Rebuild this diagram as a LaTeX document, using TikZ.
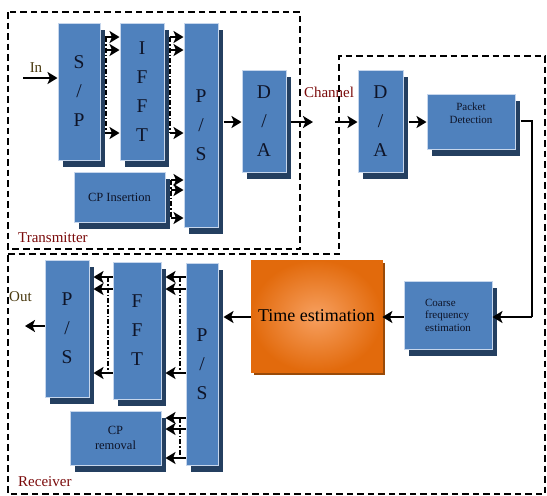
\documentclass[tikz,border=0pt]{standalone}
\usepackage{fontspec}
\setmainfont{Liberation Serif}
\usetikzlibrary{arrows.meta,shadows,calc}
\definecolor{blockblue}{HTML}{4F81BD}
\definecolor{blockedge}{HTML}{C6D6EC}
\definecolor{shadowblue}{HTML}{243F60}
\definecolor{orangeout}{HTML}{E26A0C}
\definecolor{orangein}{HTML}{F7A060}
\definecolor{orangeshadow}{HTML}{9A4A08}
\definecolor{labelred}{HTML}{7A0A0A}
\definecolor{labelbrown}{HTML}{4A3A10}
\definecolor{blocktext}{HTML}{0E1428}
\tikzset{
  blk/.style={draw=blockedge, line width=1pt, fill=blockblue, inner sep=0pt, align=center, text=blocktext,
    general shadow={fill=shadowblue, shadow xshift=5pt, shadow yshift=-7pt}},
  big/.style={font=\fontsize{19.5}{29}\selectfont},
  small/.style={font=\fontsize{11}{12.5}\selectfont},
  arr/.style={line width=2.8pt, -{Stealth[length=10pt,width=12pt,inset=2.5pt]}},
  ddot/.style={line width=1.5pt, dash pattern=on 5pt off 2pt on 1.5pt off 2pt},
  zone/.style={line width=2.6pt, dash pattern=on 6.5pt off 4pt},
  lbl/.style={inner sep=0pt, font=\fontsize{15}{17}\selectfont},
}
\begin{document}
\begin{tikzpicture}[x=1pt,y=-1pt]
\useasboundingbox (0,0) rectangle (547,496);
% zones
\draw[zone] (8,12) rectangle (300,249);
\draw[zone] (8,254) -- (339,254) -- (339,56) -- (545,56) -- (545,494) -- (8,494) -- cycle;
% transmitter blocks
\node[blk, big, minimum width=42pt, minimum height=137pt] (sp) at (79,91.5) {S\\/\\P};
\node[blk, big, minimum width=44pt, minimum height=137pt] (ifft) at (142,91.5) {I\\F\\F\\T};
\node[blk, big, minimum width=34pt, minimum height=204pt] (pstx) at (201,125) {P\\/\\S};
\node[blk, big, minimum width=44pt, minimum height=102pt] (datx) at (264,121) {D\\/\\A};
\node[blk, minimum width=91pt, minimum height=50pt, font=\fontsize{12.5}{14}\selectfont] (cpi) at (119.5,197) {CP Insertion};
% receiver blocks
\node[blk, big, minimum width=45pt, minimum height=102pt] (darx) at (380.5,121) {D\\/\\A};
\node[blk, small, minimum width=88pt, minimum height=55pt] (pd) at (471,121.5) {Packet\\Detection\\[4pt]};
\node[blk, small, minimum width=88pt, minimum height=68pt, align=left] (cfe) at (448,315) {Coarse\\frequency\\estimation};
\node[draw=orangeout, line width=0.8pt, inner sep=0pt, minimum width=131pt, minimum height=112pt,
  inner color=orangein, outer color=orangeout,
  general shadow={fill=orangeshadow, shadow xshift=3pt, shadow yshift=-3pt},
  font=\fontsize{18}{20}\selectfont, text=black] (te) at (316.5,316) {Time estimation};
\node[blk, big, minimum width=32pt, minimum height=202pt] (psrx) at (202,364) {P\\/\\S};
\node[blk, big, minimum width=48pt, minimum height=137pt] (fft) at (137,330.5) {F\\F\\T};
\node[blk, big, minimum width=44pt, minimum height=137pt] (psout) at (67,328.5) {P\\/\\S};
\node[blk, minimum width=91pt, minimum height=54pt, font=\fontsize{12.5}{14.5}\selectfont] (cpr) at (115.5,438) {CP\\removal};
% labels
\node[lbl, text=labelbrown] (inl) at (36,68) {In};
\node[lbl, text=labelred] (chl) at (329,92) {Channel};
\node[lbl, text=labelred, anchor=west] (txl) at (18,238) {Transmitter};
\node[lbl, text=labelred, anchor=west] (rxl) at (18,482) {Receiver};
\node[lbl, text=labelbrown, anchor=west] (outl) at (9,297) {Out};
\coordinate (inp) at (23,78);
\coordinate (outp) at (25,326);
\coordinate (ch1) at (313,122);
\coordinate (ch2) at (335,122);
\coordinate (turn) at (532,121);
% transmitter arrows
\draw[arr] (inp) -- (sp.west|-inp);
\foreach \yy in {37,50,133}{
  \draw[arr] ($(sp.east|-0,\yy)+(4,0)$) -- (ifft.west|-0,\yy);
  \draw[arr] ($(ifft.east|-0,\yy)+(5,0)$) -- (pstx.west|-0,\yy);
}
\foreach \yy in {180,190,218}{
  \draw[arr] ($(cpi.east|-0,\yy)+(5,0)$) -- (pstx.west|-0,\yy);
}
\draw[ddot] (106,37) -- (106,133);
\draw[ddot] (170,37) -- (170,133);
\draw[ddot] (171,180) -- (171,218);
\draw[arr] ($(pstx.east|-0,122)+(5,0)$) -- (datx.west|-0,122);
\draw[arr] ($(datx.east|-0,122)+(4,0)$) -- (ch1);
\draw[arr] (ch2) -- (darx.west|-ch2);
\draw[arr] ($(darx.east|-0,122)+(5,0)$) -- (pd.west|-0,122);
% receiver chain
\draw[line width=1.3pt] ($(pd.east|-turn)+(5,0)$) -- (turn) -- (turn|-0,317);
\draw[arr] (turn|-0,317) -- (cfe.east|-0,317);
\draw[arr] (cfe.west|-0,317) -- (te.east|-0,317);
\draw[arr] (te.west|-0,317) -- ($(psrx.east|-0,317)+(5,0)$);
\foreach \yy in {277,289,373}{
  \draw[arr] (psrx.west|-0,\yy) -- ($(fft.east|-0,\yy)+(4,0)$);
  \draw[arr] (fft.west|-0,\yy) -- ($(psout.east|-0,\yy)+(4,0)$);
}
\foreach \yy in {418,429,458}{
  \draw[arr] (psrx.west|-0,\yy) -- ($(cpr.east|-0,\yy)+(4,0)$);
}
\draw[ddot] (180,277) -- (180,373);
\draw[ddot] (108,277) -- (108,373);
\draw[ddot] (180,418) -- (180,458);
\draw[arr] (psout.west|-outp) -- (outp);
\end{tikzpicture}
\end{document}
